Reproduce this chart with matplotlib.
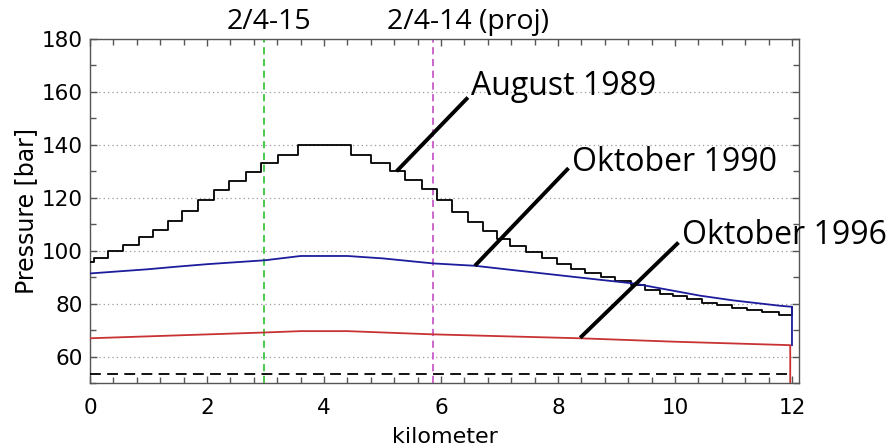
import numpy as np
import matplotlib
matplotlib.use("Agg")
import matplotlib.pyplot as plt
from matplotlib.ticker import MultipleLocator

# ---- data ----
# August 1989 staircase: step edges (km) and pressure level within each step (bar)
aug89_edges = [0.0, 0.06, 0.30, 0.57, 0.83, 1.08, 1.33, 1.58, 1.85, 2.12, 2.38, 2.66,
               2.93, 3.21, 3.55, 4.46, 4.80, 5.13, 5.38, 5.67, 5.93, 6.19, 6.46, 6.72,
               6.95, 7.18, 7.46, 7.72, 7.98, 8.23, 8.47, 8.74, 8.97, 9.24, 9.49, 9.74,
               9.97, 10.20, 10.46, 10.71, 10.97, 11.23, 11.49, 11.77, 12.0]
aug89_levels = [95.8, 97.3, 100.0, 102.1, 105.0, 108.0, 111.1, 114.9, 119.1, 123.1, 126.3,
                129.8, 133.3, 136.3, 139.9, 136.3, 133.3, 130.0, 126.6, 123.2, 119.1, 114.6,
                110.9, 107.5, 104.6, 101.7, 99.6, 97.1, 94.8, 92.9, 91.4, 90.2, 88.6, 87.0,
                85.1, 83.8, 83.0, 81.7, 80.4, 79.4, 78.4, 77.5, 76.7, 75.8]

okt90_km = [0.0, 1.0, 1.45, 2.0, 3.0, 3.6, 4.4, 5.0, 5.86, 6.58, 7.5, 8.72, 9.3, 10.43, 11.0, 11.79, 12.0]
okt90_bar = [91.4, 93.0, 93.9, 94.9, 96.4, 98.0, 98.0, 97.1, 95.2, 94.3, 92.0, 89.0, 87.6, 83.0, 81.2, 79.2, 78.8]

okt96_km = [0.0, 1.5, 3.0, 3.6, 4.4, 5.84, 7.0, 8.38, 10.0, 11.97]
okt96_bar = [66.9, 68.0, 69.1, 69.6, 69.6, 68.4, 67.7, 66.9, 65.6, 64.3]

baseline_bar = 53.4
well_km = [2.98, 5.86]
well_labels = ["2/4-15", "2/4-14 (proj)"]
well_colors = ["#3cc63c", "#c85ac8"]

series_labels = ["August 1989", "Oktober 1990", "Oktober 1996"]

# ---- figure ----
fig = plt.figure(figsize=(8.94, 4.48), dpi=100)
ax = fig.add_axes([90/894, 1 - 383/448, (799 - 90)/894, (383 - 39)/448])
ax.set_xlim(0, 12.12)
ax.set_ylim(50, 180)

# y grid
ax.yaxis.grid(True, linestyle=(0, (1, 2.5)), color="#9a9a9a", linewidth=0.9)
ax.set_axisbelow(True)

# staircase August 1989
sx = []
sy = []
for i, lev in enumerate(aug89_levels):
    sx += [aug89_edges[i], aug89_edges[i + 1]]
    sy += [lev, lev]
sx += [aug89_edges[-1]]
sy += [okt90_bar[-1]]
ax.plot(sx, sy, color="black", lw=1.3, zorder=3)

ax.plot(okt90_km + [okt90_km[-1]], okt90_bar + [okt96_bar[-1]], color="#1c1c9c", lw=1.3, zorder=4)
ax.plot(okt96_km + [okt96_km[-1]], okt96_bar + [50], color="#c83232", lw=1.3, zorder=5)

ax.plot([0, 12], [baseline_bar, baseline_bar], color="black", lw=1.3, ls=(0, (6, 3.5)), zorder=3)

for xk, lab, c in zip(well_km, well_labels, well_colors):
    ax.axvline(xk, color=c, lw=1.3, ls=(0, (4, 2.5)), zorder=2)

# top labels
fig.text(269/894, 1 - 22/448, well_labels[0], family="Open Sans", fontsize=20.5,
         ha="center", va="center")
fig.text(387/894, 1 - 22/448, well_labels[1], family="Open Sans", fontsize=20.5,
         ha="left", va="center")

# annotations (line from curve to label): curve point, line end, text offset (bar)
ann = [
    (series_labels[0], (5.24, 130.0), (6.46, 157.9), 1.0),
    (series_labels[1], (6.58, 94.3), (8.18, 131.2), -1.0),
    (series_labels[2], (8.38, 67.1), (10.06, 103.1), -0.5),
]
for lab, p0, p1, dy in ann:
    ax.plot([p0[0], p1[0]], [p0[1], p1[1]], color="black", lw=2.8, clip_on=False,
            solid_capstyle="butt", zorder=6)
    ax.text(p1[0] + 0.06, p1[1] + dy, lab, family="Open Sans", fontsize=23,
            ha="left", va="baseline", clip_on=False, zorder=6)

# ticks
ax.xaxis.set_major_locator(MultipleLocator(2))
ax.xaxis.set_minor_locator(MultipleLocator(0.4))
ax.yaxis.set_major_locator(MultipleLocator(20))
ax.yaxis.set_minor_locator(MultipleLocator(10))
ax.tick_params(which="both", direction="in", top=True, right=True, color="#555555")
ax.tick_params(which="major", length=5, width=1, labelsize=15.5)
ax.tick_params(axis="x", which="major", pad=11)
ax.tick_params(axis="y", which="major", pad=5)
ax.tick_params(which="minor", length=4, width=1)
for lab in ax.get_xticklabels() + ax.get_yticklabels():
    lab.set_family("DejaVu Sans")
for s in ax.spines.values():
    s.set_color("#555555")
    s.set_linewidth(1.0)

ax.set_xlabel("kilometer", family="DejaVu Sans", fontsize=16, labelpad=6)
ax.set_ylabel("Pressure [bar]", family="DejaVu Sans", fontsize=17, labelpad=3)

fig.savefig("out.png", dpi=100)
